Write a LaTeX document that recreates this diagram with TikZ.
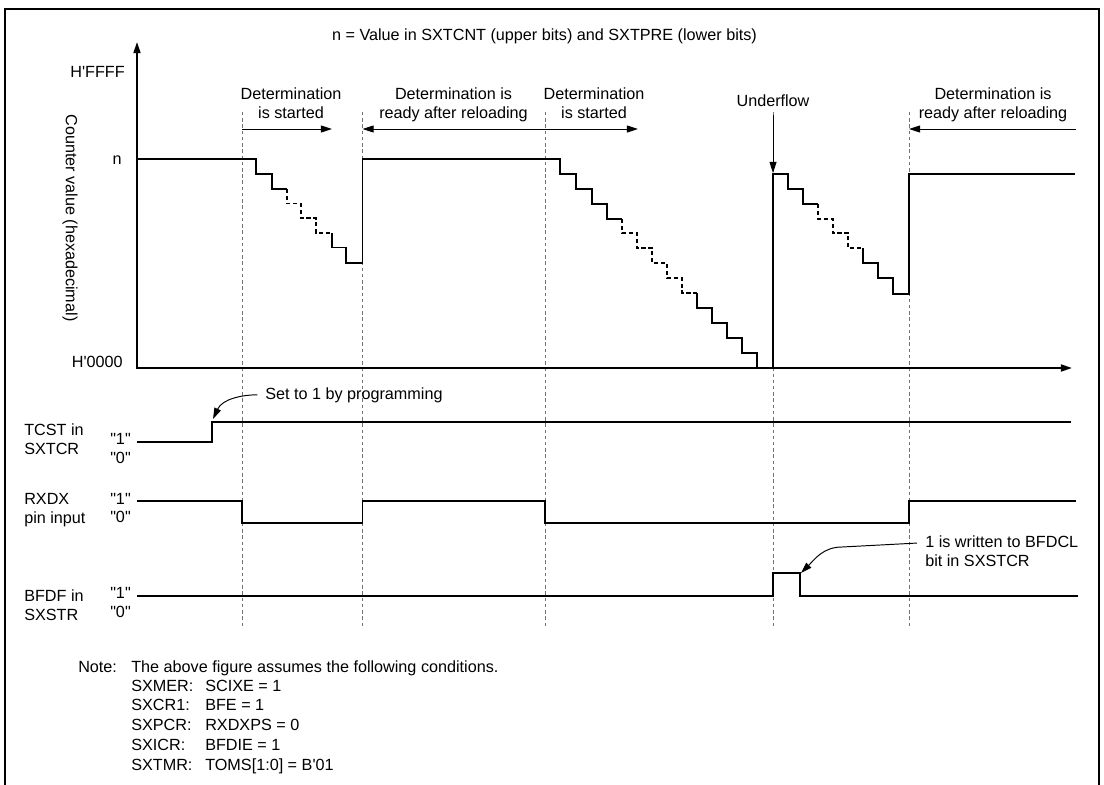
\documentclass[tikz,border=0pt]{standalone}
\usepackage{fontspec}
\setmainfont{Liberation Sans}
\usetikzlibrary{arrows.meta}
\newcommand{\apos}{\textquotesingle}
\newcommand{\lev}[1]{\textquotedbl#1\textquotedbl}

\begin{document}
\begin{tikzpicture}[x=1in,y=-1in,
  sig/.style={line width=1.4pt},
  stepdash/.style={line width=1.4pt, dash pattern=on 3pt off 2pt},
  guide/.style={line width=0.7pt, black!55, dash pattern=on 2.5pt off 2pt},
  leader/.style={line width=0.7pt, -{Triangle[length=8pt,width=5pt]}},
  lbl/.style={inner sep=0pt, font=\fontsize{11.7}{13.7}\selectfont}]
\useasboundingbox (0,0) rectangle (11.0400,7.8500);
\draw[line width=2pt] (0.0500,7.8500) -- (0.0500,0.0900) -- (10.9900,0.0900) -- (10.9900,7.8500);
\draw[guide] (2.4200,1.1200) -- (2.4200,6.2700);
\draw[guide] (3.6250,1.1200) -- (3.6250,6.2700);
\draw[guide] (5.4500,1.1200) -- (5.4500,6.2700);
\draw[guide] (7.7300,1.1200) -- (7.7300,6.2700);
\draw[guide] (9.0900,1.1200) -- (9.0900,6.2700);
\draw[sig, {Triangle[length=8pt,width=5pt]}-{Triangle[length=8pt,width=5pt]}] (1.3700,0.4200) -- (1.3700,3.6800) -- (10.7200,3.6800);
\node[lbl, anchor=base] (title) at (5.4450,0.4000) {n = Value in SXTCNT (upper bits) and SXTPRE (lower bits)};
\node[lbl, anchor=base east] (hffff) at (1.2500,0.7700) {H\apos FFFF};
\node[lbl, anchor=base east] (nval) at (1.2200,1.6400) {n};
\node[lbl, anchor=base east] (hzero) at (1.2300,3.6700) {H\apos 0000};
\node[lbl, rotate=-90] (cval) at (0.7000,2.1800) {Counter value (hexadecimal)};
\draw[sig] (1.3700,1.5900) -- (2.5600,1.5900) -- (2.5600,1.7400) -- (2.7200,1.7400) -- (2.7200,1.8900) -- (2.8700,1.8900);
\draw[stepdash] (2.8700,1.8900) -- (2.8700,2.0350) -- (3.0100,2.0350) -- (3.0100,2.1800) -- (3.1600,2.1800) -- (3.1600,2.3300) -- (3.3200,2.3300);
\draw[sig] (3.3200,2.3300) -- (3.3200,2.4750) -- (3.4600,2.4750) -- (3.4600,2.6300) -- (3.6250,2.6300) -- (3.6250,1.5900) -- (5.6000,1.5900) -- (5.6000,1.7400) -- (5.7600,1.7400) -- (5.7600,1.8900) -- (5.9200,1.8900) -- (5.9200,2.0400) -- (6.0700,2.0400) -- (6.0700,2.1900) -- (6.2200,2.1900);
\draw[stepdash] (6.2200,2.1900) -- (6.2200,2.3300) -- (6.3700,2.3300) -- (6.3700,2.4800) -- (6.5200,2.4800) -- (6.5200,2.6300) -- (6.6700,2.6300) -- (6.6700,2.7800) -- (6.8200,2.7800) -- (6.8200,2.9300) -- (6.9700,2.9300);
\draw[sig] (6.9700,2.9300) -- (6.9700,3.0800) -- (7.1200,3.0800) -- (7.1200,3.2300) -- (7.2700,3.2300) -- (7.2700,3.3800) -- (7.4200,3.3800) -- (7.4200,3.5300) -- (7.5700,3.5300) -- (7.5700,3.6800) -- (7.7300,3.6800) -- (7.7300,1.7400) -- (7.8800,1.7400) -- (7.8800,1.8900) -- (8.0300,1.8900) -- (8.0300,2.0400) -- (8.1800,2.0400);
\draw[stepdash] (8.1800,2.0400) -- (8.1800,2.1900) -- (8.3300,2.1900) -- (8.3300,2.3300) -- (8.4800,2.3300) -- (8.4800,2.4800) -- (8.6300,2.4800);
\draw[sig] (8.6300,2.4800) -- (8.6300,2.6300) -- (8.7800,2.6300) -- (8.7800,2.7800) -- (8.9300,2.7800) -- (8.9300,2.9400) -- (9.0900,2.9400) -- (9.0900,1.7400) -- (10.7500,1.7400);
\node[lbl, anchor=base, align=center] (dstart1) at (2.9100,1.1800) {Determination\\is started};
\node[lbl, anchor=base, align=center] (dready1) at (4.5350,1.1800) {Determination is\\ready after reloading};
\node[lbl, anchor=base, align=center] (dstart2) at (5.9400,1.1800) {Determination\\is started};
\node[lbl, anchor=base, align=center] (dready2) at (9.9300,1.1800) {Determination is\\ready after reloading};
\node[lbl, anchor=base] (uflow) at (7.7300,1.0600) {Underflow};
\coordinate (ds1) at (2.4200,1.2900);
\coordinate (de1) at (3.3200,1.2900);
\coordinate (dr1) at (3.6250,1.2900);
\coordinate (ds2) at (5.4500,1.2900);
\coordinate (de2) at (6.3800,1.2900);
\coordinate (dr2) at (9.0900,1.2900);
\coordinate (de3) at (10.7600,1.2900);
\coordinate (uftip) at (7.7300,1.7300);
\draw[leader] (ds1) -- (de1);
\draw[leader, {Triangle[length=8pt,width=5pt]}-] (dr1) -- (ds2);
\draw[leader] (ds2) -- (de2);
\draw[leader] (de3) -- (dr2);
\draw[leader, shorten <=6.5pt] (uflow.south) -- (uftip);
\draw[sig] (1.3700,4.4200) -- (2.1200,4.4200) -- (2.1200,4.2200) -- (10.7100,4.2200);
\draw[sig] (1.3700,5.0100) -- (2.4200,5.0100) -- (2.4200,5.2300) -- (3.6250,5.2300) -- (3.6250,5.0100) -- (5.4500,5.0100) -- (5.4500,5.2300) -- (9.0900,5.2300) -- (9.0900,5.0100) -- (10.7600,5.0100);
\draw[sig] (1.3700,5.9600) -- (7.7300,5.9600) -- (7.7300,5.7300) -- (8.0000,5.7300) -- (8.0000,5.9600) -- (10.7800,5.9600);
\node[lbl, anchor=base west, align=left] (tcst) at (0.2400,4.5400) {TCST in\\SXTCR};
\node[lbl, anchor=base] (tcone) at (1.2050,4.4400) {\lev{1}};
\node[lbl, anchor=base] (tczero) at (1.2050,4.6300) {\lev{0}};
\node[lbl, anchor=base west, align=left] (rxdx) at (0.2400,5.2300) {RXDX\\pin input};
\node[lbl, anchor=base] (rxone) at (1.2050,5.0400) {\lev{1}};
\node[lbl, anchor=base] (rxzero) at (1.2050,5.2200) {\lev{0}};
\node[lbl, anchor=base west, align=left] (bfdf) at (0.2400,6.2000) {BFDF in\\SXSTR};
\node[lbl, anchor=base] (bfone) at (1.2050,5.9800) {\lev{1}};
\node[lbl, anchor=base] (bfzero) at (1.2050,6.1700) {\lev{0}};
\coordinate (tcup) at (2.1300,4.1900);
\coordinate (bfup) at (8.0100,5.7300);
\node[lbl, anchor=base west] (setone) at (2.6500,3.9900) {Set to 1 by programming};
\draw[leader, shorten <=5.5pt] (setone.west) to[out=180,in=65] (tcup);
\node[lbl, anchor=base west, align=left] (bfdcl) at (9.2500,5.6600) {1 is written to BFDCL\\bit in SXSTCR};
\draw[leader] ([shift={(-5.8pt,-5.8pt)}]bfdcl.north west) -- (8.4200,5.4700) to[out=180,in=45] (bfup);
\node[lbl, anchor=base west] (note) at (0.7800,6.7200) {Note:};
\node[lbl, anchor=base west] (notetxt) at (1.3100,6.7200) {The above figure assumes the following conditions.};
\node[lbl, anchor=base west] (reg1) at (1.3100,6.9100) {SXMER:};
\node[lbl, anchor=base west] (val1) at (2.0500,6.9100) {SCIXE = 1};
\node[lbl, anchor=base west] (reg2) at (1.3100,7.1000) {SXCR1:};
\node[lbl, anchor=base west] (val2) at (2.0500,7.1000) {BFE = 1};
\node[lbl, anchor=base west] (reg3) at (1.3100,7.3000) {SXPCR:};
\node[lbl, anchor=base west] (val3) at (2.0500,7.3000) {RXDXPS = 0};
\node[lbl, anchor=base west] (reg4) at (1.3100,7.5000) {SXICR:};
\node[lbl, anchor=base west] (val4) at (2.0500,7.5000) {BFDIE = 1};
\node[lbl, anchor=base west] (reg5) at (1.3100,7.7000) {SXTMR:};
\node[lbl, anchor=base west] (val5) at (2.0500,7.7000) {TOMS[1:0] = B\apos 01};
\end{tikzpicture}
\end{document}
